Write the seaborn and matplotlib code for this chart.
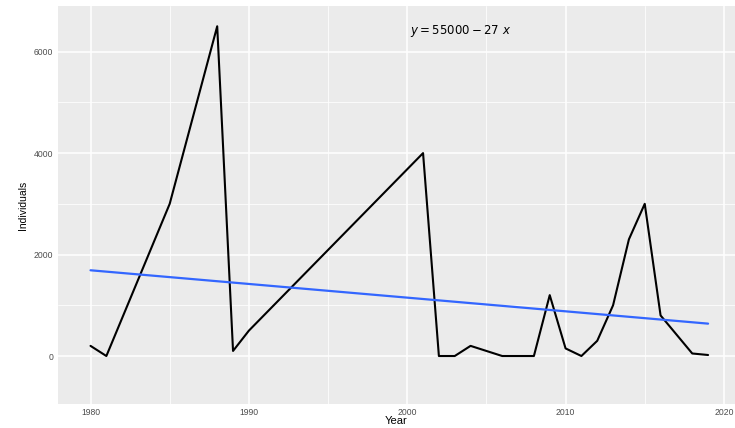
import matplotlib
matplotlib.use("Agg")
import matplotlib.pyplot as plt
import seaborn as sns
import pandas as pd
from matplotlib.ticker import MultipleLocator

years = [1980, 1981, 1985, 1988, 1989, 1990, 2001, 2002, 2003, 2004, 2006,
         2008, 2009, 2010, 2011, 2012, 2013, 2014, 2015, 2016, 2018, 2019]
individuals = [200, 0, 3000, 6500, 100, 500, 4000, 0, 0, 200, 0,
               0, 1200, 150, 0, 300, 1000, 2300, 3000, 800, 50, 20]
equation = "$y = 55000 - 27\\ x$"
x_ticks = [1980, 1990, 2000, 2010, 2020]
y_ticks = [0, 2000, 4000, 6000]

df = pd.DataFrame({"Year": years, "Individuals": individuals})

sns.set_theme(style="darkgrid")
plt.rcParams["font.family"] = ["Liberation Sans", "DejaVu Sans"]

fig = plt.figure(figsize=(7.35, 4.28), dpi=100)
ax = fig.add_axes([0.079, 0.055, 0.921, 0.931])
ax.set_facecolor("#EBEBEB")

sns.lineplot(data=df, x="Year", y="Individuals", color="black", linewidth=1.5, ax=ax)
sns.regplot(data=df, x="Year", y="Individuals", scatter=False, ci=None,
            color="#3366FF", line_kws={"linewidth": 1.6}, ax=ax)

ax.set_xlim(1977.95, 2020.7)
ax.set_ylim(-955, 6900)
ax.set_xticks(x_ticks)
ax.set_yticks(y_ticks)
ax.xaxis.set_minor_locator(MultipleLocator(5))
ax.yaxis.set_minor_locator(MultipleLocator(1000))
ax.grid(which="major", color="white", linewidth=1.1)
ax.grid(which="minor", color="white", linewidth=0.55)
for s in ax.spines.values():
    s.set_visible(False)
ax.tick_params(axis="both", which="major", length=2, width=0.8, color="#333333",
               labelsize=6.2, labelcolor="#4D4D4D", pad=1.5)
ax.tick_params(axis="x", which="major", pad=0.5)
ax.tick_params(which="minor", length=0)

ax.set_xlabel("Year", fontsize=8, labelpad=-1, color="black")
ax.set_ylabel("Individuals", fontsize=7.5, labelpad=4, color="black")

ax.text(2003.4, 6400, equation, ha="center", va="center", fontsize=8.5, color="black")

fig.savefig("out.png", dpi=100)
